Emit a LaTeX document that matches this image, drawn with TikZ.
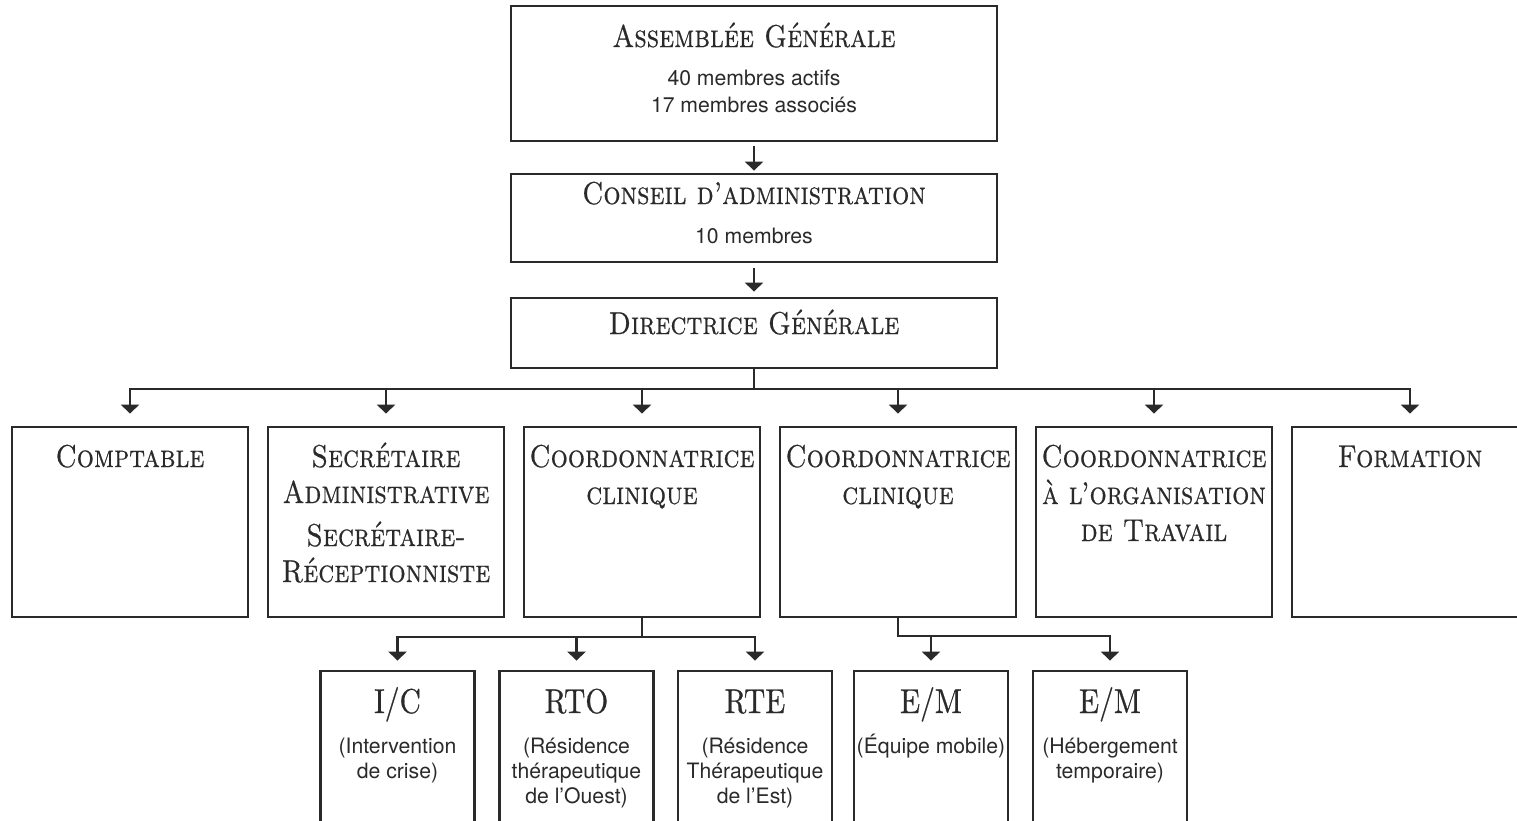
\documentclass[tikz,border=0pt]{standalone}
\usepackage{fontspec}
\usepackage{graphicx}
\newfontfamily\heros{TeX Gyre Heros}
\newfontfamily\scserif{lmroman10-regular.otf}[SmallCapsFont=lmromancaps10-regular.otf, SmallCapsFeatures={FakeBold=0.6}, FakeBold=0.6]
\newcommand{\tallt}[1]{\scalebox{1}[1.17]{#1}}
\usetikzlibrary{arrows.meta}
\definecolor{ink}{HTML}{2A2A2A}
\begin{document}
\begin{tikzpicture}[x=1pt,y=-1pt,
  box/.style={draw=ink, line width=2.8pt, inner sep=0pt},
  topbox/.style={box, minimum width=486pt},
  midbox/.style={box, minimum width=236pt, minimum height=190pt},
  lowbox/.style={box, minimum width=154pt, minimum height=209pt},
  conn/.style={draw=ink, line width=2.2pt},
  arr/.style={conn, -{Triangle[width=18pt,length=9pt]}},
  ttl/.style={text=ink, font=\scserif\fontsize{27}{30}\selectfont\scshape, anchor=base, inner sep=0pt},
  ttlu/.style={text=ink, font=\scserif\fontsize{29.5}{32}\selectfont, anchor=base, inner sep=0pt},
  sub/.style={text=ink, font=\heros\fontsize{21.2}{24}\selectfont, anchor=base, inner sep=0pt},
]
\useasboundingbox (0,0) rectangle (1517,820);
\fill[white] (0,0) rectangle (1517,820);
\clip (0,0) rectangle (1517,820);

% top level boxes
\node[topbox, minimum height=135pt] (ag) at (754,73.5) {};
\node[topbox, minimum height=88pt] (cd) at (754,218) {};
\node[topbox, minimum height=70pt] (dg) at (754,333) {};

\node[ttl] (agt) at (754,47) {\tallt{Assemblée Générale}};
\node[sub] (ags1) at (754,85) {40 membres actifs};
\node[sub] (ags2) at (754,112) {17 membres associés};
\node[ttl] (cdt) at (754,204) {\tallt{Conseil d’administration}};
\node[sub] (cds) at (754,243) {10 membres};
\node[ttl] (dgt) at (754,334) {\tallt{Directrice Générale}};

% second level boxes
\node[midbox] (b1) at (130,522) {};
\node[midbox] (b2) at (386,522) {};
\node[midbox] (b3) at (642,522) {};
\node[midbox] (b4) at (898,522) {};
\node[midbox] (b5) at (1154,522) {};
\node[midbox] (b6) at (1410,522) {};

\node[ttl] (b1t) at (130,467) {\tallt{Comptable}};
\node[ttl] (b2t1) at (386,467) {\tallt{Secrétaire}};
\node[ttl] (b2t2) at (386,503) {\tallt{Administrative}};
\node[ttl] (b2t3) at (386,546) {\tallt{Secrétaire-}};
\node[ttl] (b2t4) at (386,582) {\tallt{Réceptionniste}};
\node[ttl] (b3t1) at (642,467) {\tallt{Coordonnatrice}};
\node[ttl] (b3t2) at (642,504) {\tallt{clinique}};
\node[ttl] (b4t1) at (898,467) {\tallt{Coordonnatrice}};
\node[ttl] (b4t2) at (898,504) {\tallt{clinique}};
\node[ttl] (b5t1) at (1154,467) {\tallt{Coordonnatrice}};
\node[ttl] (b5t2) at (1154,504) {\tallt{à l’organisation}};
\node[ttl] (b5t3) at (1154,541) {\tallt{de Travail}};
\node[ttl] (b6t) at (1410,467) {\tallt{Formation}};

% third level boxes
\node[lowbox] (c1) at (397.5,775.5) {};
\node[lowbox] (c2) at (576.5,775.5) {};
\node[lowbox] (c3) at (755,775.5) {};
\node[lowbox] (c4) at (931,775.5) {};
\node[lowbox] (c5) at (1110,775.5) {};

\node[ttlu] (c1t) at (397.5,713) {\tallt{I/C}};
\node[sub] (c1s1) at (397.5,753) {(Intervention};
\node[sub] (c1s2) at (397.5,778) {de crise)};
\node[ttlu] (c2t) at (576.5,713) {\tallt{RTO}};
\node[sub] (c2s1) at (576.5,753) {(Résidence};
\node[sub] (c2s2) at (576.5,778) {thérapeutique};
\node[sub] (c2s3) at (576.5,803) {de l’Ouest)};
\node[ttlu] (c3t) at (755,713) {\tallt{RTE}};
\node[sub] (c3s1) at (755,753) {(Résidence};
\node[sub] (c3s2) at (755,778) {Thérapeutique};
\node[sub] (c3s3) at (755,803) {de l’Est)};
\node[ttlu] (c4t) at (931,713) {\tallt{E/M}};
\node[sub] (c4s1) at (931,753) {(Équipe mobile)};
\node[ttlu] (c5t) at (1110,713) {\tallt{E/M}};
\node[sub] (c5s1) at (1110,753) {(Hébergement};
\node[sub] (c5s2) at (1110,778) {temporaire)};

% connectors
\draw[arr, shorten <=4pt, shorten >=2pt] (ag.south) -- (cd.north);
\draw[arr, shorten <=5pt, shorten >=5pt] (cd.south) -- (dg.north);

\coordinate (bus) at (754,389);
\draw[conn] (dg.south) -- (bus);
\draw[arr, shorten >=12pt] (bus) -| (b1.north);
\draw[arr, shorten >=12pt] (bus) -| (b6.north);
\draw[arr, shorten >=12pt] (bus -| b2.north) -- (b2.north);
\draw[arr, shorten >=12pt] (bus -| b3.north) -- (b3.north);
\draw[arr, shorten >=12pt] (bus -| b4.north) -- (b4.north);
\draw[arr, shorten >=12pt] (bus -| b5.north) -- (b5.north);

\coordinate (j3) at (642,637);
\draw[conn] (b3.south) -- (j3);
\draw[arr, shorten >=9pt] (j3) -| (c1.north);
\draw[arr, shorten >=9pt] (j3) -| (c3.north);
\draw[arr, shorten >=9pt] (j3 -| c2.north) -- (c2.north);

\coordinate (j4) at (898,636);
\draw[arr, shorten >=9pt] (b4.south) -- (j4) -| (c5.north);
\draw[arr, shorten >=9pt] (j4 -| c4.north) -- (c4.north);
\end{tikzpicture}
\end{document}
